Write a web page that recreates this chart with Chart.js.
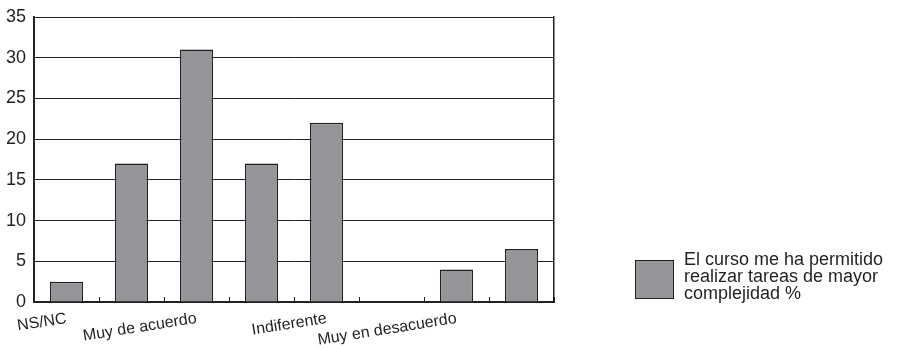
<!DOCTYPE html>
<html>
<head>
<meta charset="utf-8">
<script src="https://cdn.jsdelivr.net/npm/chart.js@4"></script>
<style>
  html, body { margin: 0; padding: 0; background: #fff; }
  #wrap { position: relative; width: 904px; height: 349px; }
  #legend { position: absolute; left: 635px; top: 250px;
            font-family: "Liberation Sans", Arial, sans-serif; color: #231f20; }
  #legend .box { position: absolute; left: 0; top: 10px; width: 37px; height: 37px; background: #939598; border: 1.5px solid #231f20; }
  #legend .txt { position: absolute; left: 49px; top: 1px; font-size: 18px; line-height: 17px; white-space: nowrap; }
</style>
</head>
<body>
<div id="wrap">
  <canvas id="c" width="904" height="349"></canvas>
  <div id="legend"><div class="box"></div><div class="txt" id="legtxt"></div></div>
</div>
<script>
const categories = ["NS/NC", "", "Muy de acuerdo", "", "Indiferente", "", "Muy en desacuerdo", ""];
const values = [2.5, 17, 31, 17, 22, 0, 4, 6.5];
const seriesName = ["El curso me ha permitido", "realizar tareas de mayor", "complejidad %"];
const yTicks = [0, 5, 10, 15, 20, 25, 30, 35];

document.getElementById('legtxt').innerHTML = seriesName.join('<br>');

const ink = '#231f20';
const font = "'Liberation Sans', Arial, sans-serif";

new Chart(document.getElementById('c'), {
  type: 'bar',
  data: {
    labels: categories,
    datasets: [{
      label: seriesName.join(' '),
      data: values,
      backgroundColor: '#939598',
      borderColor: ink,
      borderWidth: 1.5,
      categoryPercentage: 1,
      barPercentage: 0.51
    }]
  },
  options: {
    responsive: false,
    animation: false,
    layout: { padding: { top: 17, right: 350, left: 0, bottom: 0 } },
    plugins: { legend: { display: false }, tooltip: { enabled: false } },
    scales: {
      x: {
        offset: true,
        grid: { offset: true, drawOnChartArea: false, drawTicks: true, tickLength: -5, color: ink, lineWidth: 1 },
        border: { color: ink, width: 2 },
        ticks: {
          autoSkip: false, minRotation: 9, maxRotation: 9, padding: 12,
          color: ink, font: { family: font, size: 16 }
        },
        afterFit: s => { s.height = 47; s.paddingLeft = 0; s.paddingRight = 0; }
      },
      y: {
        min: 0, max: 35,
        afterBuildTicks: s => { s.ticks = yTicks.map(v => ({ value: v })); },
        grid: { color: ink, lineWidth: 1, drawTicks: false },
        border: { color: ink, width: 2 },
        ticks: { padding: 8, color: ink, font: { family: font, size: 18 } },
        afterFit: s => { s.width = 34; s.paddingTop = 0; s.paddingBottom = 0; }
      },
      y2: {
        position: 'right', min: 0, max: 35,
        grid: { display: false },
        ticks: { display: false },
        border: { display: true, color: ink, width: 1.5 },
        afterFit: s => { s.width = 0; }
      }
    }
  }
});
</script>
</body>
</html>
